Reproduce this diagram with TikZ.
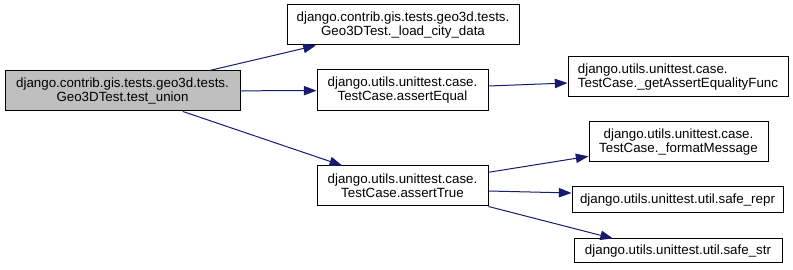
\documentclass[tikz,border=0pt]{standalone}
\usepackage{fontspec}
\setmainfont{Liberation Sans}
\usetikzlibrary{arrows.meta,calc}
\definecolor{edgeblue}{HTML}{191970}
\definecolor{rootgrey}{HTML}{BFBFBF}
\begin{document}
\begin{tikzpicture}[x=0.75pt,y=-0.75pt,
  fn/.style={draw=black,line width=0.75pt,fill=white,align=center,
    font=\fontsize{10}{10.5}\selectfont,inner sep=0pt,anchor=center},
  call/.style={draw=edgeblue,line width=0.75pt,
    -{Triangle[length=9.5pt,width=7pt]}}]
\useasboundingbox (0,0) rectangle (793,270);
% function boxes: centre, width and height in pixels
\node[fn,fill=rootgrey,minimum width=235*0.75pt,minimum height=40*0.75pt] (root) at (122.5,91)
  {django.contrib.gis.tests.geo3d.tests.\\Geo3DTest.test\_union};
\node[fn,minimum width=232*0.75pt,minimum height=40*0.75pt] (load) at (403,25)
  {django.contrib.gis.tests.geo3d.tests.\\Geo3DTest.\_load\_city\_data};
\node[fn,minimum width=171*0.75pt,minimum height=41*0.75pt] (aeq) at (402.5,90.5)
  {django.utils.unittest.case.\\TestCase.assertEqual};
\node[fn,minimum width=171*0.75pt,minimum height=40*0.75pt] (atrue) at (402.5,186)
  {django.utils.unittest.case.\\TestCase.assertTrue};
\node[fn,align=left,minimum width=220*0.75pt,minimum height=40*0.75pt] (geteq) at (678,77)
  {django.utils.unittest.case.\\TestCase.\_getAssertEqualityFunc};
\node[fn,minimum width=179*0.75pt,minimum height=40*0.75pt] (fmt) at (678.5,142)
  {django.utils.unittest.case.\\TestCase.\_formatMessage};
\node[fn,minimum width=211*0.75pt,minimum height=26*0.75pt] (repr) at (677.5,200)
  {django.utils.unittest.util.safe\_repr};
\node[fn,minimum width=208*0.75pt,minimum height=24*0.75pt] (str) at (678,251)
  {django.utils.unittest.util.safe\_str};
% calls
\draw[call] (root) -- (load);
\draw[call] (root) -- (aeq);
\draw[call] (root) -- (atrue);
\draw[call] ($(aeq.east)+(0,-4.5)$) -- ($(geteq.west)+(0,6)$);
\draw[call] (atrue) -- (fmt);
\draw[call] ($(atrue.east)+(0,5)$) -- ($(repr.west)+(0,-7)$);
\draw[call] (atrue.south east) -- ($(str.north)+(-65,0)$);
\end{tikzpicture}
\end{document}
